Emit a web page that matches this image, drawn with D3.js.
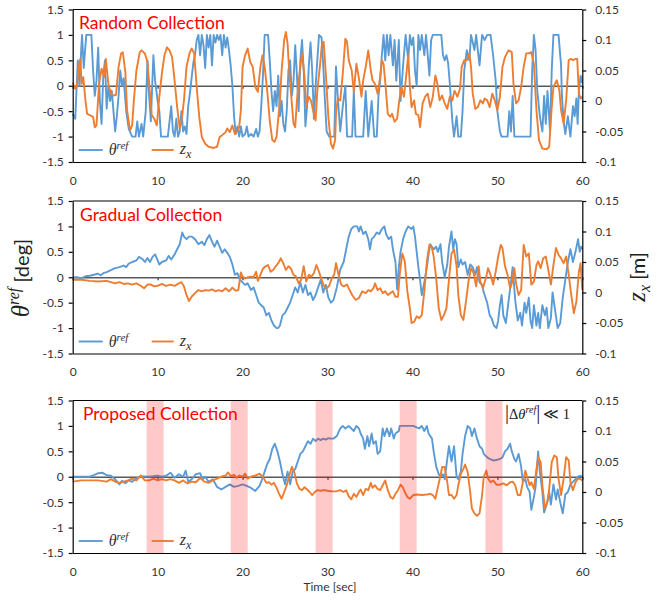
<!DOCTYPE html>
<html>
<head>
<meta charset="utf-8">
<script src="https://cdn.jsdelivr.net/npm/d3@7"></script>
<style>
  body { margin: 0; background: #fff; }
  text { font-family: Lato, "Open Sans", sans-serif; }
</style>
</head>
<body>
<div id="chart"></div>
<script>
// ticks and labels
const xTicks = [0, 10, 20, 30, 40, 50, 60];
const thetaTicks = [-1.5, -1, -0.5, 0, 0.5, 1, 1.5];
const zTicks = [-0.1, -0.05, 0, 0.05, 0.1, 0.15];
const panelTitles = ["Random Collection", "Gradual Collection", "Proposed Collection"];
// shaded windows in the last panel [start, end] sec
const lowVarBands = [[8.7, 10.7], [18.6, 20.6], [28.6, 30.6], [38.5, 40.5], [48.6, 50.6]];

// [time sec, theta ref deg]
const randomTheta = [[0,-0.55],[0.3,-0.65],[0.6,0.5],[0.8,0],[1.0,0.7],[1.1,1],[1.3,0.35],[1.6,1],[2.2,1],[2.4,0.3],[2.6,-0.2],[2.8,0.1],[3.0,0.75],[3.2,-0.3],[3.4,-0.75],[3.6,0.2],[3.8,0.5],[4.0,-0.45],[4.2,0],[4.4,-0.3],[4.6,-0.1],[4.8,-0.5],[5.0,-0.9],[5.2,-0.6],[5.4,-0.2],[5.6,0.3],[5.8,0],[6.0,0.15],[6.3,-0.5],[6.6,-0.85],[7.0,-1],[7.4,-1],[7.6,-0.7],[7.8,-1],[8.1,-0.75],[8.3,-1],[8.6,-0.5],[8.8,0.5],[9.0,-0.2],[9.2,-0.7],[9.5,0.6],[9.7,0.1],[10.0,-0.3],[10.2,-0.5],[10.4,-1],[11.2,-1],[11.4,-0.7],[11.6,-0.4],[11.8,-0.9],[12.0,-1],[12.2,-0.65],[12.4,-1],[12.6,-0.9],[12.8,-0.5],[13.0,-0.9],[13.2,-0.8],[13.4,-0.95],[13.6,-0.4],[13.8,-0.15],[14.0,0.15],[14.2,0.45],[14.4,0.6],[14.6,0.9],[14.8,1],[15.0,0.6],[15.2,1],[15.4,0.8],[15.6,0.35],[15.8,1],[16.0,0.75],[16.2,1],[16.4,0.4],[16.6,1],[16.8,0.85],[17.0,1],[17.2,0.9],[17.4,1],[17.6,0.6],[17.8,1],[18.0,0.75],[18.2,0.95],[18.4,0.7],[18.6,0.4],[18.8,0],[19.0,-0.6],[19.2,-0.95],[19.4,-0.8],[19.6,-1],[19.8,-0.8],[20.0,-1],[20.3,-0.95],[20.5,-0.8],[20.7,-1],[21.0,-0.95],[21.3,-1],[21.6,-0.85],[21.8,-1],[22.0,-0.9],[22.2,-0.4],[22.4,0.2],[22.6,1],[23.0,1],[23.2,0.5],[23.4,-0.1],[23.6,-0.5],[23.8,-0.1],[24.0,-0.4],[24.2,0.2],[24.4,-0.6],[24.6,-0.3],[24.8,-0.75],[25.0,-0.9],[25.2,-0.5],[25.4,0.3],[25.6,0.5],[25.8,-0.2],[26.0,0.1],[26.2,0.8],[26.4,0.2],[26.6,-0.5],[26.8,0.5],[27.0,0.9],[27.2,0.3],[27.4,-0.8],[27.6,-0.4],[27.8,0.4],[28.0,0.85],[28.2,0.3],[28.4,-0.65],[28.6,0],[28.8,0.5],[29.0,1],[29.3,0.95],[29.5,0.4],[29.7,-0.3],[29.9,-0.9],[30.2,-1],[30.8,-1],[31.0,0.38],[31.2,-0.2],[31.5,-0.9],[31.8,-0.4],[32.1,0],[32.3,-1],[32.9,-1],[33.1,-0.1],[33.3,-1],[34.2,-1],[34.5,-0.1],[34.8,-1],[35.2,-0.3],[35.5,-1],[35.8,-1],[36.0,-0.2],[36.2,0.1],[36.4,0.6],[36.6,1],[36.8,0.5],[37.0,1],[37.2,0.6],[37.4,1],[37.7,0.4],[37.9,0.9],[38.1,0.1],[38.4,0.9],[38.6,-0.3],[38.9,0.4],[39.2,1],[39.5,0.5],[39.7,1],[39.9,0.8],[40.1,0.95],[40.3,0.3],[40.5,0],[40.7,1],[40.9,0.7],[41.1,1],[41.4,0.6],[41.6,1],[42.0,0.2],[42.2,0.9],[42.4,1],[43.4,1],[43.6,0.6],[43.8,0.5],[44.0,0.6],[44.2,0.45],[44.4,0.05],[44.7,-0.7],[44.9,-1],[45.2,-0.6],[45.4,-1],[45.7,-1],[45.9,-0.5],[46.1,0.3],[46.4,0.7],[46.7,0.5],[46.9,1],[47.3,0.7],[47.5,1],[47.9,0.4],[48.2,1],[48.5,0.9],[48.8,1],[49.2,1],[49.5,0.6],[49.8,0.1],[50.0,-0.5],[50.3,-0.9],[50.5,-1],[51.2,-1],[51.4,-0.5],[51.6,-0.9],[51.8,-0.2],[52.0,-1],[53.9,-1],[54.1,0.3],[54.3,1],[54.5,0.7],[54.7,-0.1],[55.0,-0.6],[55.3,-0.9],[55.5,-0.2],[55.7,-0.75],[55.9,-0.1],[56.2,-0.9],[56.4,0.3],[56.6,1],[57.2,1],[57.5,0.4],[57.6,-0.2],[57.8,-0.7],[58.0,-0.95],[58.3,-0.6],[58.6,-1],[58.9,-0.4],[59.1,-0.6],[59.3,-0.25],[59.45,-0.75],[59.6,-0.1],[59.8,0.2],[60,0.05]];

// [time sec, z_x m]
const randomZ = [[0,0.03],[0.3,0.02],[0.5,0.024],[0.7,0.056],[0.9,0.069],[1.05,0.028],[1.25,0.039],[1.5,0.001],[1.7,-0.021],[2.0,-0.023],[2.4,-0.026],[2.6,-0.043],[2.8,-0.04],[3.1,0.028],[3.4,0.053],[3.7,0.039],[3.9,0.069],[4.2,0.028],[4.5,0.012],[4.8,0.009],[5.1,0.01],[5.4,0.056],[5.7,0.078],[5.9,0.08],[6.2,0.047],[6.4,-0.015],[6.75,-0.048],[7.0,-0.04],[7.2,0.001],[7.5,0.05],[7.9,0.08],[8.1,0.083],[8.5,0.078],[8.8,0.064],[9.0,0.028],[9.3,-0.023],[9.6,-0.029],[9.9,-0.04],[10.2,0.007],[10.5,0.045],[10.8,0.075],[11.1,0.088],[11.4,0.083],[11.7,0.072],[11.9,0.047],[12.3,-0.01],[12.6,-0.045],[12.85,-0.029],[13.1,0.001],[13.4,0.056],[13.75,0.078],[14.0,0.086],[14.3,0.078],[14.6,0.023],[14.9,-0.026],[15.2,-0.059],[15.6,-0.07],[16.0,-0.075],[16.6,-0.077],[17.0,-0.075],[17.3,-0.059],[17.6,-0.056],[18.0,-0.051],[18.2,-0.045],[18.5,-0.051],[18.8,-0.04],[19.1,-0.054],[19.3,-0.051],[19.6,-0.043],[19.8,-0.015],[20.0,0.056],[20.3,0.075],[20.6,0.086],[20.9,0.064],[21.2,0.056],[21.5,0.023],[21.8,0.015],[22.1,0.056],[22.35,0.075],[22.6,0.056],[22.9,0.017],[23.2,-0.032],[23.5,-0.064],[23.75,-0.067],[24.0,-0.059],[24.4,0.001],[24.6,0.05],[24.9,0.1],[25.1,0.113],[25.3,0.094],[25.5,0.047],[25.8,-0.004],[26.0,-0.037],[26.2,-0.043],[26.4,0.001],[26.7,0.045],[27.0,0.078],[27.3,0.039],[27.5,-0.01],[27.8,0.007],[28.05,0.001],[28.3,-0.015],[28.6,-0.032],[28.8,0.017],[29.1,0.056],[29.35,0.094],[29.55,0.097],[29.8,0.045],[30.1,-0.026],[30.4,-0.07],[30.65,-0.078],[30.9,-0.064],[31.0,-0.021],[31.2,0.004],[31.5,0.001],[31.8,0.045],[32.1,0.102],[32.3,0.097],[32.5,0.067],[32.85,0.05],[33.1,0.015],[33.4,0.061],[33.7,0.037],[34.0,0.007],[34.2,0.034],[34.5,0.056],[34.8,0.083],[35.1,0.05],[35.3,0.034],[35.6,0.028],[35.9,0.012],[36.2,0.039],[36.4,0.067],[36.6,0.061],[36.8,0.031],[37.1,-0.021],[37.4,-0.026],[37.6,-0.021],[37.9,-0.034],[38.2,-0.029],[38.45,0.001],[38.7,0.023],[39.0,0.007],[39.25,0.039],[39.5,0.075],[39.7,0.023],[39.9,-0.01],[40.2,0.001],[40.4,-0.021],[40.7,-0.023],[40.9,-0.043],[41.2,-0.004],[41.5,0.007],[41.8,0.012],[42.1,-0.01],[42.4,0.007],[42.7,0.042],[42.9,0.031],[43.2,0.001],[43.5,0.009],[43.8,-0.004],[44.1,-0.013],[44.4,0.007],[44.7,0.001],[44.95,0.017],[45.3,0.007],[45.6,0.02],[45.8,0.056],[46.1,0.067],[46.4,0.067],[46.7,0.078],[46.9,0.056],[47.1,0.012],[47.4,-0.013],[47.7,-0.01],[48.0,0.001],[48.3,-0.004],[48.5,0.004],[48.8,0.001],[49.1,-0.01],[49.4,0.012],[49.7,0.001],[50.0,-0.015],[50.3,0.007],[50.6,0.056],[50.9,0.072],[51.3,0.083],[51.7,0.08],[51.9,0.028],[52.2,-0.004],[52.5,0.001],[52.8,0.023],[53.1,0.056],[53.4,0.078],[53.7,0.078],[54.0,0.08],[54.3,0.061],[54.6,-0.015],[54.9,-0.064],[55.3,-0.078],[55.8,-0.079],[56.1,-0.075],[56.4,-0.01],[56.6,0.023],[57.0,0.034],[57.3,0.017],[57.5,-0.015],[57.8,-0.037],[58.1,0.001],[58.4,0.067],[58.7,0.069],[58.9,0.067],[59.2,0.069],[59.4,0.069],[59.6,0.012],[59.8,0.004],[60,0.007]];

const gradualTheta = [[0,0],[0.5,0],[1.0,-0.02],[1.5,0.02],[2.0,0.03],[2.5,0.05],[3.0,0.07],[3.3,0.04],[3.6,0.08],[4.0,0.1],[4.5,0.14],[5.0,0.18],[5.5,0.2],[6.0,0.23],[6.3,0.2],[6.6,0.27],[7.0,0.3],[7.5,0.33],[7.8,0.4],[8.2,0.36],[8.5,0.3],[8.8,0.38],[9.1,0.3],[9.4,0.4],[9.7,0.45],[10.0,0.33],[10.2,0.25],[10.5,0.3],[11.0,0.33],[11.3,0.42],[11.6,0.35],[12.0,0.45],[12.3,0.55],[12.6,0.65],[12.9,0.88],[13.1,0.8],[13.4,0.75],[13.7,0.8],[14.0,0.8],[14.4,0.75],[14.8,0.65],[15.2,0.7],[15.5,0.63],[15.8,0.75],[16.1,0.83],[16.4,0.7],[16.7,0.6],[17.0,0.72],[17.3,0.6],[17.6,0.48],[17.9,0.55],[18.2,0.48],[18.5,0.4],[18.8,0.25],[19.1,0.05],[19.4,0.08],[19.7,-0.05],[20.0,-0.1],[20.3,-0.15],[20.6,-0.12],[21.0,-0.25],[21.3,-0.2],[21.6,-0.35],[21.9,-0.5],[22.2,-0.55],[22.5,-0.6],[22.8,-0.75],[23.1,-0.7],[23.4,-0.85],[23.7,-0.95],[24.0,-1],[24.2,-1],[24.4,-0.95],[24.7,-0.75],[25.0,-0.7],[25.3,-0.6],[25.6,-0.5],[25.9,-0.35],[26.2,-0.2],[26.5,-0.3],[26.8,-0.1],[27.1,-0.3],[27.4,-0.15],[27.7,-0.35],[28.0,-0.3],[28.3,-0.45],[28.6,-0.35],[28.9,-0.2],[29.2,-0.05],[29.5,-0.3],[29.8,-0.15],[30.1,-0.4],[30.4,-0.5],[30.7,-0.45],[31.1,-0.2],[31.5,0.15],[31.9,0.3],[32.2,0.55],[32.5,0.8],[32.8,0.95],[33.1,1],[33.5,1],[33.7,0.9],[33.9,1],[34.2,0.85],[34.5,0.9],[34.8,0.75],[35.0,0.55],[35.2,0.75],[35.5,0.8],[35.8,0.88],[36.1,0.85],[36.4,0.95],[36.7,1],[36.9,0.85],[37.2,0.75],[37.5,0.8],[37.7,0.55],[38.0,0.3],[38.2,-0.24],[38.4,0.2],[38.6,0.5],[38.9,0.75],[39.2,0.9],[39.5,1],[39.9,0.95],[40.1,1],[40.3,0.8],[40.5,0.5],[40.7,0.2],[40.9,-0.05],[41.1,-0.35],[41.4,-0.1],[41.7,0.2],[41.9,0.45],[42.1,0.65],[42.5,0.55],[42.8,0.6],[43.0,0.5],[43.3,0.65],[43.5,0.3],[43.8,0],[44.1,0.25],[44.3,0.6],[44.6,0.9],[44.8,0.55],[45.0,0.75],[45.2,0.65],[45.4,0.2],[45.7,0.35],[45.9,0.25],[46.2,0.3],[46.5,0.05],[46.8,0.25],[47.1,0.2],[47.4,0.05],[47.6,0.2],[47.9,-0.1],[48.2,-0.15],[48.4,-0.3],[48.8,-0.5],[49.1,-0.75],[49.3,-0.8],[49.6,-0.95],[49.9,-1],[50.1,-0.85],[50.3,-0.55],[50.5,-0.35],[50.7,-0.75],[51.0,-0.9],[51.3,-0.5],[51.6,-0.1],[51.8,0.2],[52.1,-0.45],[52.4,-0.85],[52.7,-0.7],[52.9,-0.95],[53.2,-0.5],[53.4,-0.7],[53.7,-0.4],[53.9,-0.85],[54.1,-1],[54.3,-0.55],[54.6,-0.95],[54.8,-0.7],[55.0,-1],[55.3,-0.55],[55.6,-0.75],[55.8,-0.6],[56.0,-1],[56.3,-0.8],[56.5,-0.3],[56.8,-0.65],[57.1,-1],[57.4,-0.9],[57.7,-0.4],[58.0,-0.05],[58.3,0.3],[58.6,0.55],[58.9,0.3],[59.2,0.5],[59.5,0.75],[59.7,0.5],[59.85,0.6],[60,0.55]];

const gradualZ = [[0,0.021],[1,0.021],[2,0.019],[3,0.018],[4,0.019],[5,0.015],[5.5,0.017],[6,0.014],[6.5,0.015],[7,0.013],[7.5,0.015],[8,0.011],[8.4,0.007],[8.8,0.013],[9.2,0.013],[9.6,0.01],[10,0.011],[10.5,0.014],[11,0.011],[11.5,0.013],[12,0.011],[12.4,0.014],[12.8,0.017],[13.1,0.01],[13.4,-0.004],[13.7,-0.014],[14.0,-0.007],[14.4,-0.001],[14.8,0.004],[15.2,0.002],[15.6,0.004],[16.0,0.003],[16.4,0.005],[16.8,0.002],[17.2,0.004],[17.6,0.002],[18.0,0.007],[18.4,0.002],[18.8,0.008],[19.2,0.003],[19.5,0.004],[19.8,0.033],[20.0,0.026],[20.3,0.023],[20.6,0.025],[21.0,0.026],[21.3,0.025],[21.6,0.034],[21.8,0.019],[22.1,0.029],[22.4,0.039],[22.7,0.043],[23.0,0.045],[23.3,0.034],[23.6,0.037],[23.9,0.043],[24.2,0.048],[24.5,0.056],[24.8,0.048],[25.1,0.037],[25.4,0.043],[25.7,0.039],[26.0,0.029],[26.3,0.026],[26.6,0.015],[26.9,0.021],[27.2,0.043],[27.5,0.018],[27.8,0.029],[28.1,0.026],[28.4,0.032],[28.7,0.045],[29.0,0.034],[29.3,0.021],[29.6,0.01],[29.9,0.007],[30.2,0.011],[30.5,0.023],[30.8,0.03],[31.0,0.048],[31.3,0.029],[31.6,0.013],[31.9,0.01],[32.3,0.013],[32.6,0.004],[32.9,-0.004],[33.3,-0.012],[33.7,-0.009],[34.1,0.002],[34.5,-0.001],[34.8,0.004],[35.1,0.002],[35.4,0.007],[35.6,0.015],[35.9,0.004],[36.2,0.007],[36.5,-0.001],[36.8,0.002],[37.1,-0.004],[37.4,-0.001],[37.7,0.002],[38.0,-0.007],[38.3,-0.007],[38.5,0.029],[38.8,0.064],[39.1,0.051],[39.4,0.002],[39.7,-0.026],[39.9,-0.05],[40.2,-0.048],[40.5,-0.039],[40.8,-0.042],[41.1,-0.037],[41.4,0.002],[41.7,0.051],[42.0,0.078],[42.3,0.073],[42.5,0.059],[42.8,0.023],[43.1,-0.026],[43.4,-0.045],[43.7,-0.037],[44.0,-0.026],[44.3,0.021],[44.6,0.064],[44.9,0.07],[45.2,0.043],[45.4,-0.004],[45.7,-0.037],[46.0,-0.045],[46.3,-0.015],[46.6,0.018],[46.9,0.04],[47.2,0.032],[47.5,0.01],[47.8,0.043],[48.0,0.018],[48.3,0.007],[48.7,0.026],[48.9,0.04],[49.2,0.029],[49.5,0.013],[49.8,0.034],[50.1,0.059],[50.4,0.078],[50.6,0.073],[50.9,0.043],[51.2,0.029],[51.5,0.007],[51.7,0.015],[52.0,0.04],[52.2,0.015],[52.5,-0.004],[52.8,0.004],[53.1,0.078],[53.4,0.059],[53.7,0.064],[54.0,0.013],[54.3,0.018],[54.6,0.045],[54.8,0.051],[55.1,0.04],[55.4,0.056],[55.7,0.059],[56.0,0.037],[56.3,0.013],[56.6,0.045],[56.9,0.073],[57.2,0.062],[57.5,0.056],[57.8,0.048],[58.1,0.059],[58.4,0.029],[58.7,-0.004],[59.0,-0.034],[59.3,-0.015],[59.6,0.034],[59.8,0.048],[60,0.004]];

const proposedTheta = [[0,0],[2,0],[2.5,0.03],[3.0,0.07],[3.5,0.08],[4.0,0.03],[4.5,0.02],[5.0,-0.05],[5.5,-0.15],[5.8,-0.08],[6.2,-0.13],[6.6,-0.07],[7.0,-0.1],[7.5,-0.03],[8.0,0.01],[9.0,0],[10.0,0.02],[10.5,0],[11.0,0.02],[11.5,0.08],[12.0,-0.02],[12.5,0.05],[13.0,0],[13.3,0.12],[13.6,-0.1],[14.0,-0.05],[14.5,0.05],[15.0,0.07],[15.3,-0.05],[15.6,0],[16.0,-0.1],[16.5,-0.05],[17.0,-0.2],[17.5,-0.25],[18.0,-0.2],[18.5,-0.15],[19.0,-0.2],[19.5,-0.18],[20.0,-0.15],[20.5,-0.18],[21.0,-0.22],[21.5,-0.28],[22.0,-0.18],[22.3,-0.05],[22.6,0.1],[22.9,0.25],[23.2,0.35],[23.5,0.55],[23.8,0.65],[24.1,0.5],[24.4,0.3],[24.7,0.05],[25.0,-0.15],[25.3,0.1],[25.6,-0.15],[25.9,0.1],[26.2,0.15],[26.5,0.3],[26.8,0.45],[27.1,0.5],[27.4,0.6],[27.7,0.7],[28.0,0.65],[28.3,0.75],[28.6,0.7],[28.9,0.75],[29.2,0.72],[29.5,0.75],[29.8,0.73],[30.1,0.76],[30.4,0.75],[30.7,0.75],[31.1,0.8],[31.5,0.95],[31.8,1],[32.1,0.95],[32.5,1],[32.8,0.95],[33.1,0.9],[33.4,1],[33.7,0.95],[33.9,0.85],[34.2,0.75],[34.4,0.55],[34.7,0.8],[34.9,0.6],[35.2,0.85],[35.4,0.65],[35.7,0.7],[35.9,0.45],[36.2,0.5],[36.5,0.95],[36.7,0.8],[37.0,0.95],[37.3,0.8],[37.5,0.95],[37.8,0.75],[38.0,0.85],[38.4,0.9],[38.5,1],[39.3,1],[40.1,1],[40.5,0.97],[40.8,0.95],[41.1,1],[41.4,0.9],[41.7,1],[41.9,0.85],[42.3,0.75],[42.5,0.5],[42.8,0.2],[43.1,0.05],[43.3,0],[43.6,0.05],[43.8,-0.05],[44.1,0.35],[44.3,0.6],[44.6,0.3],[44.9,0.6],[45.2,0],[45.4,-0.05],[45.7,0.1],[45.9,0.45],[46.2,0.8],[46.5,1],[46.8,0.95],[47.0,0.8],[47.3,0.95],[47.6,0.75],[47.9,0.6],[48.2,0.55],[48.4,0.45],[48.8,0.38],[49.1,0.35],[49.5,0.32],[49.9,0.33],[50.3,0.35],[50.6,0.38],[50.9,0.5],[51.2,0.55],[51.5,0.65],[51.7,0.5],[52.0,0.35],[52.2,0.3],[52.5,0.45],[52.8,0.2],[53.0,-0.1],[53.3,-0.05],[53.5,-0.2],[53.8,-0.3],[54.0,-0.65],[54.3,-0.4],[54.5,-0.2],[54.8,0.5],[55.0,0.1],[55.3,-0.3],[55.5,-0.7],[55.8,-0.55],[56.1,-0.3],[56.3,-0.55],[56.6,-0.15],[56.9,-0.45],[57.1,-0.25],[57.4,-0.5],[57.7,-0.72],[58.0,-0.35],[58.3,-0.3],[58.6,-0.15],[58.9,-0.1],[59.2,-0.05],[59.5,0],[59.8,0.02],[60,0]];

const proposedZ = [[0,0.017],[1,0.019],[2,0.019],[3,0.019],[4,0.017],[4.5,0.021],[5,0.017],[5.5,0.015],[6,0.017],[6.5,0.019],[7,0.022],[7.5,0.019],[8,0.027],[8.5,0.019],[9,0.019],[9.5,0.022],[10,0.019],[10.5,0.021],[11,0.019],[11.5,0.021],[12,0.019],[12.5,0.015],[13,0.019],[13.5,0.014],[14,0.017],[14.5,0.016],[15,0.023],[15.5,0.017],[16,0.015],[16.5,0.019],[17,0.022],[17.5,0.025],[18,0.027],[18.3,0.032],[18.6,0.026],[19,0.028],[19.3,0.023],[19.6,0.027],[20,0.025],[20.3,0.03],[20.6,0.022],[21,0.025],[21.5,0.027],[22,0.03],[22.4,0.025],[22.8,0.015],[23.1,0.016],[23.4,0.012],[23.7,0.015],[24,0.007],[24.3,-0.003],[24.6,-0.011],[24.9,0],[25.2,0.011],[25.5,0.027],[25.8,0.041],[26.1,0.032],[26.4,0.014],[26.7,0.005],[27,0.003],[27.3,0.008],[27.6,0.004],[27.9,0],[28.2,-0.005],[28.5,0],[28.8,0.003],[29.2,0.002],[29.6,0.003],[30,0.002],[30.5,0.001],[31.0,0.001],[31.5,0.003],[31.9,0],[32.2,0.003],[32.5,-0.007],[32.8,-0.012],[33.1,-0.003],[33.4,-0.008],[33.7,0],[33.9,0.004],[34.2,-0.005],[34.5,0.005],[34.8,0.003],[35.1,0.015],[35.3,0.007],[35.6,0.011],[35.9,0.005],[36.2,0.003],[36.5,0.011],[36.8,0.019],[37.1,0.003],[37.4,-0.008],[37.7,-0.011],[38.0,-0.003],[38.3,0.003],[38.6,0.012],[38.9,0.007],[39.1,0],[39.4,-0.008],[39.7,-0.011],[40.1,-0.005],[40.5,-0.004],[41.1,-0.005],[41.7,-0.004],[42.1,-0.003],[42.4,-0.005],[42.7,-0.011],[43.0,0.008],[43.3,0.027],[43.5,0.041],[43.8,0.041],[44.1,0.016],[44.3,-0.005],[44.6,-0.005],[44.9,-0.011],[45.2,-0.005],[45.4,0.011],[45.7,0.03],[46.0,0.038],[46.2,0.045],[46.5,0.033],[46.8,0],[47.0,-0.027],[47.3,-0.035],[47.6,-0.039],[47.9,-0.035],[48.2,-0.005],[48.4,0.025],[48.7,0.035],[48.9,0.022],[49.2,0.016],[49.5,0.019],[49.9,0.012],[50.3,0.012],[50.7,0.014],[51.1,0.011],[51.5,0.016],[51.8,0.017],[52.1,0.011],[52.4,-0.005],[52.7,-0.005],[53.0,0.016],[53.3,0.035],[53.5,0.025],[53.8,0.011],[54.0,0.016],[54.3,0.005],[54.5,0.027],[54.8,0.057],[55.1,0.049],[55.3,0.011],[55.6,-0.027],[55.9,-0.016],[56.1,0.005],[56.4,0.049],[56.7,0.06],[57.0,0.057],[57.2,0.022],[57.5,-0.005],[57.8,0.022],[58.1,0.057],[58.4,0.052],[58.6,0.016],[58.9,0.003],[59.2,0.016],[59.5,0.022],[59.8,0.021],[60,0.019]];

const blue = "#5b9bd5";
const orange = "#ed7d31";
const serif = "'Liberation Serif', 'DejaVu Serif', serif";

const width = 668, height = 600;
const plotLeft = 72.7, plotRight = 582.3, plotH = 152.5;

const svg = d3.select("#chart").append("svg")
    .attr("width", width)
    .attr("height", height);

const x = d3.scaleLinear().domain([0, 60]).range([plotLeft, plotRight]);

const panels = [
    { title: panelTitles[0], top: 9.5, titleX: 79, theta: randomTheta, z: randomZ },
    { title: panelTitles[1], top: 201, titleX: 80, theta: gradualTheta, z: gradualZ },
    { title: panelTitles[2], top: 400.5, titleX: 83, theta: proposedTheta, z: proposedZ, bands: lowVarBands }
];

panels.forEach(p => {
    const bottom = p.top + plotH;
    const yL = d3.scaleLinear().domain([-1.5, 1.5]).range([bottom, p.top]);
    const yR = d3.scaleLinear().domain([-0.1, 0.15]).range([bottom, p.top]);
    const g = svg.append("g");

    // zero axis with small ticks
    g.append("g")
        .attr("transform", `translate(0,${yL(0)})`)
        .call(d3.axisBottom(x).tickValues(xTicks).tickSize(3).tickSizeOuter(0).tickFormat(""))
        .call(a => a.selectAll("path, line").attr("stroke", "#595959").attr("stroke-width", 1.5));

    const lineL = d3.line().x(d => x(d[0])).y(d => yL(d[1]));
    const lineR = d3.line().x(d => x(d[0])).y(d => yR(d[1]));

    g.append("path").datum(p.theta)
        .attr("d", lineL)
        .attr("fill", "none")
        .attr("stroke", blue)
        .attr("stroke-width", 1.9)
        .attr("stroke-linejoin", "round");

    g.append("path").datum(p.z)
        .attr("d", lineR)
        .attr("fill", "none")
        .attr("stroke", orange)
        .attr("stroke-width", 1.9)
        .attr("stroke-linejoin", "round");

    if (p.bands) {
        g.selectAll(".band").data(p.bands).enter()
            .append("rect")
            .attr("class", "band")
            .attr("x", d => x(d[0]))
            .attr("width", d => x(d[1]) - x(d[0]))
            .attr("y", p.top)
            .attr("height", plotH)
            .attr("fill", "rgba(255,0,0,0.21)");
    }

    // frame
    g.append("line")
        .attr("x1", plotLeft).attr("x2", plotRight)
        .attr("y1", p.top).attr("y2", p.top)
        .attr("stroke", "#000").attr("stroke-width", 1.2);

    // bottom labels
    g.append("g")
        .attr("transform", `translate(0,${bottom})`)
        .call(d3.axisBottom(x).tickValues(xTicks).tickSize(0).tickPadding(14).tickFormat(String))
        .call(a => a.select(".domain").attr("stroke", "#000").attr("stroke-width", 1.2))
        .call(a => a.selectAll("text").attr("font-size", 12).attr("fill", "#333")
            .style("font-family", "Lato, sans-serif"));

    g.append("g")
        .attr("transform", `translate(${plotLeft},0)`)
        .call(d3.axisLeft(yL).tickValues(thetaTicks).tickSize(4).tickSizeOuter(0).tickPadding(5).tickFormat(String))
        .call(a => a.selectAll("path, line").attr("stroke", "#000").attr("stroke-width", 1.2))
        .call(a => a.selectAll("text").attr("font-size", 12).attr("fill", "#333")
            .style("font-family", "Lato, sans-serif"));

    g.append("g")
        .attr("transform", `translate(${plotRight},0)`)
        .call(d3.axisRight(yR).tickValues(zTicks).tickSize(4).tickSizeOuter(0).tickPadding(9).tickFormat(String))
        .call(a => a.selectAll("path, line").attr("stroke", "#000").attr("stroke-width", 1.2))
        .call(a => a.selectAll("text").attr("font-size", 12).attr("fill", "#333")
            .style("font-family", "Lato, sans-serif"));

    // title
    g.append("text")
        .attr("x", p.titleX)
        .attr("y", p.top + 19.5)
        .attr("font-size", 17.5)
        .attr("fill", "#ff0000")
        .text(p.title);

    // legend
    const ly = bottom - 12;
    const lg = g.append("g").attr("transform", `translate(${plotLeft},${ly})`);
    lg.append("line").attr("x1", 6).attr("x2", 30).attr("stroke", blue).attr("stroke-width", 1.9);
    const t1 = lg.append("text").attr("x", 36).attr("y", 5).style("font-family", serif).attr("font-style", "italic").attr("font-size", 16).attr("fill", "#333");
    t1.append("tspan").text("θ");
    t1.append("tspan").attr("dy", -6).attr("font-size", 11).text("ref");
    lg.append("line").attr("x1", 79).attr("x2", 101).attr("stroke", orange).attr("stroke-width", 1.9);
    const t2 = lg.append("text").attr("x", 107).attr("y", 4).style("font-family", serif).attr("font-style", "italic").attr("font-size", 16).attr("fill", "#333");
    t2.append("tspan").text("z");
    t2.append("tspan").attr("dy", 4).attr("font-size", 12).text("x");

    if (p.bands) {
        const an = g.append("text")
            .attr("x", 505).attr("y", p.top + 18.5)
            .style("font-family", serif)
            .attr("font-size", 14.5)
            .attr("fill", "#222");
        an.append("tspan").attr("font-size", 20).text("|");
        an.append("tspan").text("Δ");
        an.append("tspan").attr("font-style", "italic").text("θ");
        an.append("tspan").attr("font-style", "italic").attr("font-size", 10).attr("dy", -6).text("ref");
        an.append("tspan").attr("dy", 6).attr("font-size", 20).text("|");
        an.append("tspan").attr("dx", 3).text("≪ 1");
    }
});

// axis titles
const yl = svg.append("text")
    .attr("transform", "translate(29,278) rotate(-90)")
    .attr("text-anchor", "middle")
    .attr("fill", "#222");
yl.append("tspan").style("font-family", serif).attr("font-style", "italic").attr("font-size", 25).text("θ");
yl.append("tspan").style("font-family", serif).attr("font-style", "italic").attr("font-size", 16).attr("dy", -10).text("ref");
yl.append("tspan").attr("font-size", 20).attr("dy", 10).text(" [deg]");

const yr = svg.append("text")
    .attr("transform", "translate(645,277) rotate(-90)")
    .attr("text-anchor", "middle")
    .attr("fill", "#222");
yr.append("tspan").style("font-family", serif).attr("font-style", "italic").attr("font-size", 25).text("z");
yr.append("tspan").style("font-family", serif).attr("font-style", "italic").attr("font-size", 16).attr("dy", 5).text("x");
yr.append("tspan").attr("font-size", 20).attr("dy", -5).text(" [m]");

svg.append("text")
    .attr("x", 330).attr("y", 591)
    .attr("text-anchor", "middle")
    .attr("font-size", 12)
    .attr("fill", "#333")
    .text("Time [sec]");
</script>
</body>
</html>
